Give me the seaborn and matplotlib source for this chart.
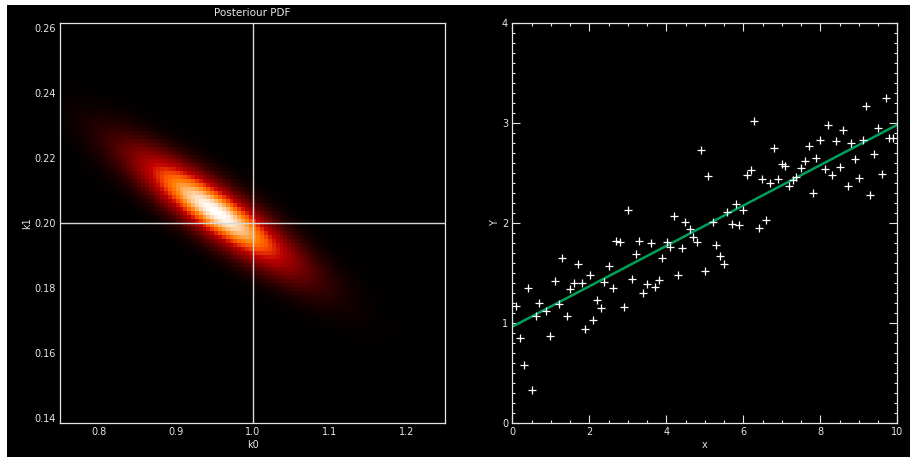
import numpy as np
import pandas as pd
import matplotlib
matplotlib.use("Agg")
import matplotlib.pyplot as plt
from matplotlib.patches import Rectangle
from matplotlib.ticker import MultipleLocator
import seaborn as sns

# ---- data ----
x_data = [0.10, 0.21, 0.30, 0.40, 0.50, 0.61, 0.69, 0.87, 0.99, 1.11,
          1.21, 1.30, 1.41, 1.50, 1.59, 1.71, 1.80, 1.89, 2.01, 2.10,
          2.19, 2.30, 2.39, 2.51, 2.61, 2.69, 2.81, 2.90, 3.00, 3.11,
          3.20, 3.30, 3.40, 3.50, 3.59, 3.71, 3.81, 3.89, 4.01, 4.10,
          4.20, 4.31, 4.40, 4.49, 4.61, 4.70, 4.80, 4.91, 5.00, 5.09,
          5.22, 5.30, 5.39, 5.51, 5.57, 5.70, 5.80, 5.90, 5.99, 6.10,
          6.19, 6.29, 6.41, 6.49, 6.59, 6.70, 6.79, 6.89, 7.00, 7.09,
          7.19, 7.30, 7.37, 7.51, 7.60, 7.70, 7.81, 7.90, 8.00, 8.11,
          8.21, 8.30, 8.41, 8.50, 8.60, 8.71, 8.81, 8.90, 9.00, 9.10,
          9.19, 9.30, 9.40, 9.49, 9.61, 9.70, 9.79, 9.90]
y_data = [1.17, 0.85, 0.58, 1.35, 0.33, 1.07, 1.20, 1.12, 0.87, 1.42,
          1.19, 1.65, 1.07, 1.34, 1.40, 1.59, 1.40, 0.94, 1.48, 1.03,
          1.23, 1.15, 1.41, 1.57, 1.35, 1.82, 1.81, 1.16, 2.13, 1.44,
          1.69, 1.82, 1.30, 1.39, 1.80, 1.36, 1.43, 1.65, 1.81, 1.76,
          2.07, 1.48, 1.75, 2.01, 1.94, 1.86, 1.81, 2.73, 1.52, 2.47,
          2.01, 1.78, 1.67, 1.59, 2.11, 1.99, 2.19, 1.98, 2.13, 2.48,
          2.53, 3.02, 1.95, 2.44, 2.03, 2.40, 2.75, 2.44, 2.59, 2.57,
          2.37, 2.43, 2.46, 2.55, 2.62, 2.77, 2.30, 2.65, 2.83, 2.54,
          2.98, 2.48, 2.82, 2.56, 2.93, 2.37, 2.80, 2.64, 2.45, 2.83,
          3.17, 2.28, 2.69, 2.95, 2.49, 3.25, 2.85, 2.85]

# fitted line (green)
fit_x = [0.0, 10.0]
fit_y = [0.96, 2.98]

# posterior peak and assumed noise level
peak_k0 = 0.952
peak_k1 = 0.2035
noise_sigma = 0.35

# true parameters (white cross-hair)
true_k0 = 1.0
true_k1 = 0.2

k0_range = (0.75, 1.25)
k1_range = (0.1385, 0.2615)
n_grid = 100

k0_ticks = [0.8, 0.9, 1.0, 1.1, 1.2]
k1_ticks = [0.14, 0.16, 0.18, 0.20, 0.22, 0.24, 0.26]
x_ticks = [0, 2, 4, 6, 8, 10]
y_ticks = [0, 1, 2, 3, 4]

# ---- Gaussian posterior PDF of (k0, k1) for the straight-line model ----
xd = np.asarray(x_data)
fisher = np.array([[len(xd), xd.sum()], [xd.sum(), (xd ** 2).sum()]]) / noise_sigma ** 2

k0_edges = np.linspace(k0_range[0], k0_range[1], n_grid + 1)
k1_edges = np.linspace(k1_range[0], k1_range[1], n_grid + 1)
k0_c = 0.5 * (k0_edges[:-1] + k0_edges[1:])
k1_c = 0.5 * (k1_edges[:-1] + k1_edges[1:])
K0, K1 = np.meshgrid(k0_c, k1_c)
d0 = K0 - peak_k0
d1 = K1 - peak_k1
chi2 = fisher[0, 0] * d0 ** 2 + 2 * fisher[0, 1] * d0 * d1 + fisher[1, 1] * d1 ** 2
P = np.exp(-0.5 * chi2)
post = pd.DataFrame({"k0": K0.ravel(), "k1": K1.ravel(), "p": P.ravel()})
scatter_df = pd.DataFrame({"x": x_data, "Y": y_data})
fit_df = pd.DataFrame({"x": fit_x, "Y": fit_y})

# ---- styling ----
fg = "#e6e6e6"
sns.set_theme(style="dark", rc={
    "axes.facecolor": "black",
    "figure.facecolor": "white",
    "axes.edgecolor": fg,
    "axes.linewidth": 0.9,
    "text.color": fg,
    "axes.labelcolor": fg,
    "xtick.color": fg,
    "ytick.color": fg,
    "axes.grid": False,
})
plt.rcParams["font.family"] = ["DejaVu Sans"]

fig = plt.figure(figsize=(9.1, 4.57), dpi=100)
fig.patches.append(Rectangle((7 / 910, 0), 1, 1 - 5 / 457,
                             transform=fig.transFigure, facecolor="black",
                             edgecolor="none", zorder=-10))

ax1 = fig.add_axes([60.3 / 910, (457 - 422.7) / 457, 384.7 / 910, 400 / 457])
ax2 = fig.add_axes([512.3 / 910, (457 - 422.7) / 457, 385 / 910, 400 / 457])

sns.histplot(data=post, x="k0", y="k1", weights="p", bins=n_grid,
             binrange=(k0_range, k1_range), cmap="gist_heat", thresh=None,
             cbar=False, ax=ax1, vmin=0)
ax1.axvline(true_k0, color="#d8d8d8", lw=1.0)
ax1.axhline(true_k1, color="#d8d8d8", lw=1.0)
ax1.set_xlim(*k0_range)
ax1.set_ylim(*k1_range)
ax1.set_xticks(k0_ticks)
ax1.set_xticklabels([f"{v:.1f}" for v in k0_ticks])
ax1.set_yticks(k1_ticks)
ax1.set_yticklabels([f"{v:.2f}" for v in k1_ticks])
ax1.xaxis.set_minor_locator(MultipleLocator(0.01))
ax1.yaxis.set_minor_locator(MultipleLocator(0.005))
ax1.set_xlabel("k0", fontsize=7, labelpad=2)
ax1.set_ylabel("k1", fontsize=7, labelpad=2)
ax1.set_title("Posteriour PDF", fontsize=7.5, color=fg, pad=5)

sns.scatterplot(data=scatter_df, x="x", y="Y", marker="+", color="white",
                s=30, linewidth=0.9, ax=ax2, zorder=3)
sns.lineplot(data=fit_df, x="x", y="Y", color="#00a05a", lw=1.8, ax=ax2,
             zorder=2)
ax2.set_xlim(0, 10)
ax2.set_ylim(0, 4)
ax2.set_xticks(x_ticks)
ax2.set_yticks(y_ticks)
ax2.xaxis.set_minor_locator(MultipleLocator(0.5))
ax2.yaxis.set_minor_locator(MultipleLocator(0.1))
ax2.set_xlabel("x", fontsize=7, labelpad=2)
ax2.set_ylabel("Y", fontsize=7, labelpad=1)

for ax in (ax1, ax2):
    ax.tick_params(which="both", direction="in", top=True, right=True,
                   bottom=True, left=True, labelsize=7, colors=fg)
    ax.tick_params(which="major", length=6, width=0.8, pad=3)
    ax.tick_params(which="minor", length=2.5, width=0.8)
    for sp in ax.spines.values():
        sp.set_color(fg)
        sp.set_visible(True)

fig.savefig("out.png", dpi=100, facecolor=fig.get_facecolor())
